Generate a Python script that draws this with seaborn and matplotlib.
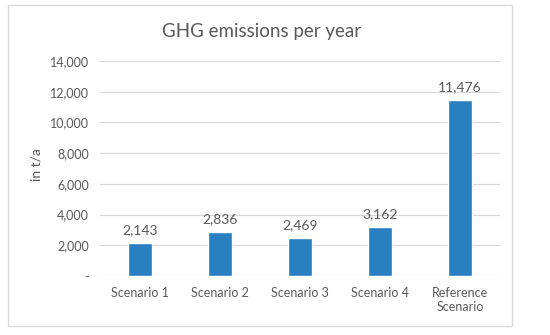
import matplotlib
matplotlib.use('Agg')
import matplotlib.pyplot as plt
import seaborn as sns
import pandas as pd
from matplotlib.patches import Rectangle
from matplotlib.ticker import FuncFormatter

categories = ['Scenario 1', 'Scenario 2', 'Scenario 3', 'Scenario 4', 'Reference\nScenario']
emissions = [2143, 2836, 2469, 3162, 11476]
y_ticks = [0, 2000, 4000, 6000, 8000, 10000, 12000, 14000]

df = pd.DataFrame({'scenario': categories, 'emissions': emissions})

sns.set_style('white')
plt.rcParams['font.family'] = ['Lato', 'DejaVu Sans']
text_color = '#595959'
bar_color = '#2A7FC1'

fig = plt.figure(figsize=(5.5, 3.35), dpi=100)
ax = fig.add_axes([0.182, 0.176, 0.727, 0.642])

sns.barplot(data=df, x='scenario', y='emissions', color=bar_color,
            width=0.31, saturation=1, ax=ax)

ax.set_ylim(0, 14000)
ax.set_yticks(y_ticks)
ax.yaxis.set_major_formatter(FuncFormatter(lambda v, p: '-' if v == 0 else f'{int(v):,}'))
ax.grid(axis='y', color='#D9D9D9', linewidth=0.9)
ax.set_axisbelow(True)
for s in ax.spines.values():
    s.set_visible(False)
ax.tick_params(axis='both', length=0, colors=text_color, labelsize=9, pad=8)
ax.set_xlim(-0.5, 4.5)

for i, v in enumerate(emissions):
    ax.text(i, v + 450, f'{v:,}', ha='center', va='bottom', fontsize=10, color=text_color)

ax.set_xlabel('')
ax.set_ylabel('in t/a', color=text_color, fontsize=10, labelpad=10)
ax.yaxis.set_label_coords(-0.145, 0.52)

fig.text(0.475, 0.905, 'GHG emissions per year', ha='center', va='center',
         fontsize=13.5, color=text_color)

fig.patches.append(Rectangle((8 / 550, 1 - 326 / 335), 504 / 550, 321 / 335,
                             transform=fig.transFigure, fill=False,
                             edgecolor='#D9D9D9', linewidth=1))

fig.savefig('out.png', dpi=100)
